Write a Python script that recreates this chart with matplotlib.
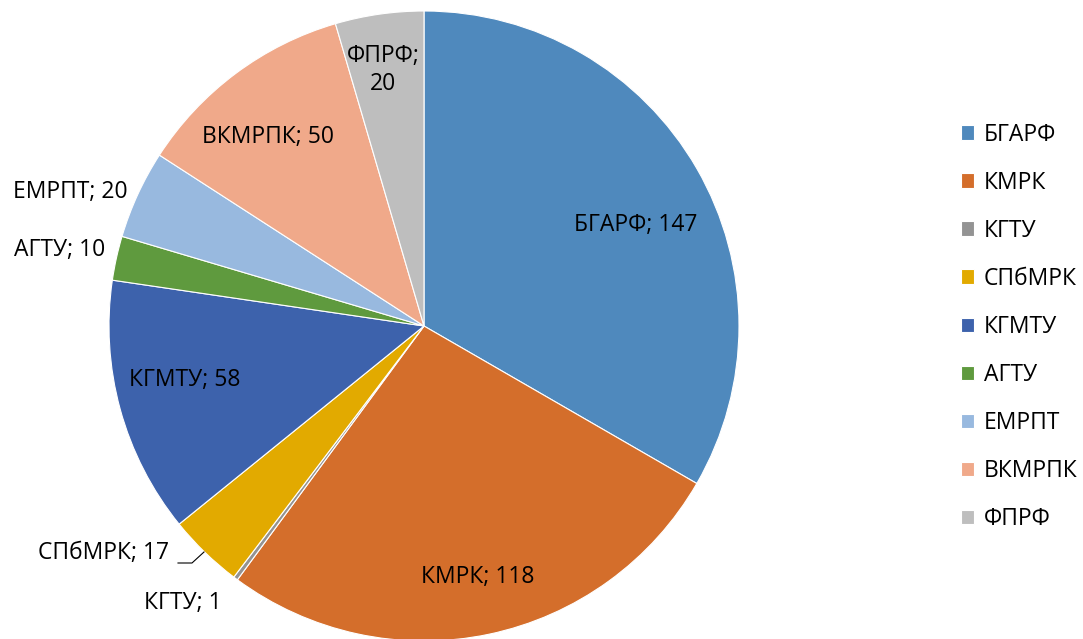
import matplotlib
matplotlib.use("Agg")
import matplotlib.pyplot as plt
import numpy as np

plt.rcParams['font.family'] = ['Open Sans', 'DejaVu Sans']

categories = ["БГАРФ", "КМРК", "КГТУ", "СПбМРК", "КГМТУ", "АГТУ", "ЕМРПТ", "ВКМРПК", "ФПРФ"]
values = [147, 118, 1, 17, 58, 10, 20, 50, 20]
colors = ["#4F89BD", "#D46E2B", "#939393", "#E2AA00", "#3D62AC",
          "#5F9A3E", "#98B9DF", "#F0A98A", "#BEBEBE"]

W, H = 1083, 639
fig = plt.figure(figsize=(W / 100, H / 100), dpi=100)
cx, cy, R = 424, 326, 315
ax = fig.add_axes([(cx - R) / W, (H - cy - R) / H, 2 * R / W, 2 * R / H])

wedges, _ = ax.pie(values, colors=colors, startangle=90, counterclock=False,
                   radius=1.0, wedgeprops=dict(edgecolor="white", linewidth=0.8))
ax.set_xlim(-1, 1)
ax.set_ylim(-1, 1)
ax.set_aspect("equal")
ax.axis("off")

FS = 16.5
# label positions in pixel offsets from the pie centre (layout only)
label_px = [(636, 225), (478, 577), (183, 603), (104, 553), (185, 380),
            (60, 250), (70, 192), (268, 137), (383, 70)]
for name, v, (px, py) in zip(categories, values, label_px):
    x = (px - cx) / R
    y = -(py - cy) / R
    txt = f"{name}; {v}" if name != "ФПРФ" else f"{name};\n{v}"
    ax.text(x, y, txt, ha="center", va="center", fontsize=FS,
            linespacing=1.25, clip_on=False)

# leader line for СПбМРК
lx = [(178 - cx) / R, (192 - cx) / R, (204 - cx) / R]
ly = [-(563 - cy) / R, -(563 - cy) / R, -(552 - cy) / R]
ax.plot(lx, ly, color="black", linewidth=0.8, clip_on=False)

leg = fig.legend(wedges, categories, loc="upper left",
                 bbox_to_anchor=(940 / W, 1 - 102 / H), frameon=False,
                 fontsize=FS, labelspacing=1.05, handlelength=0.6,
                 handleheight=0.6, handletextpad=0.4)

fig.savefig("out.png", dpi=100)
